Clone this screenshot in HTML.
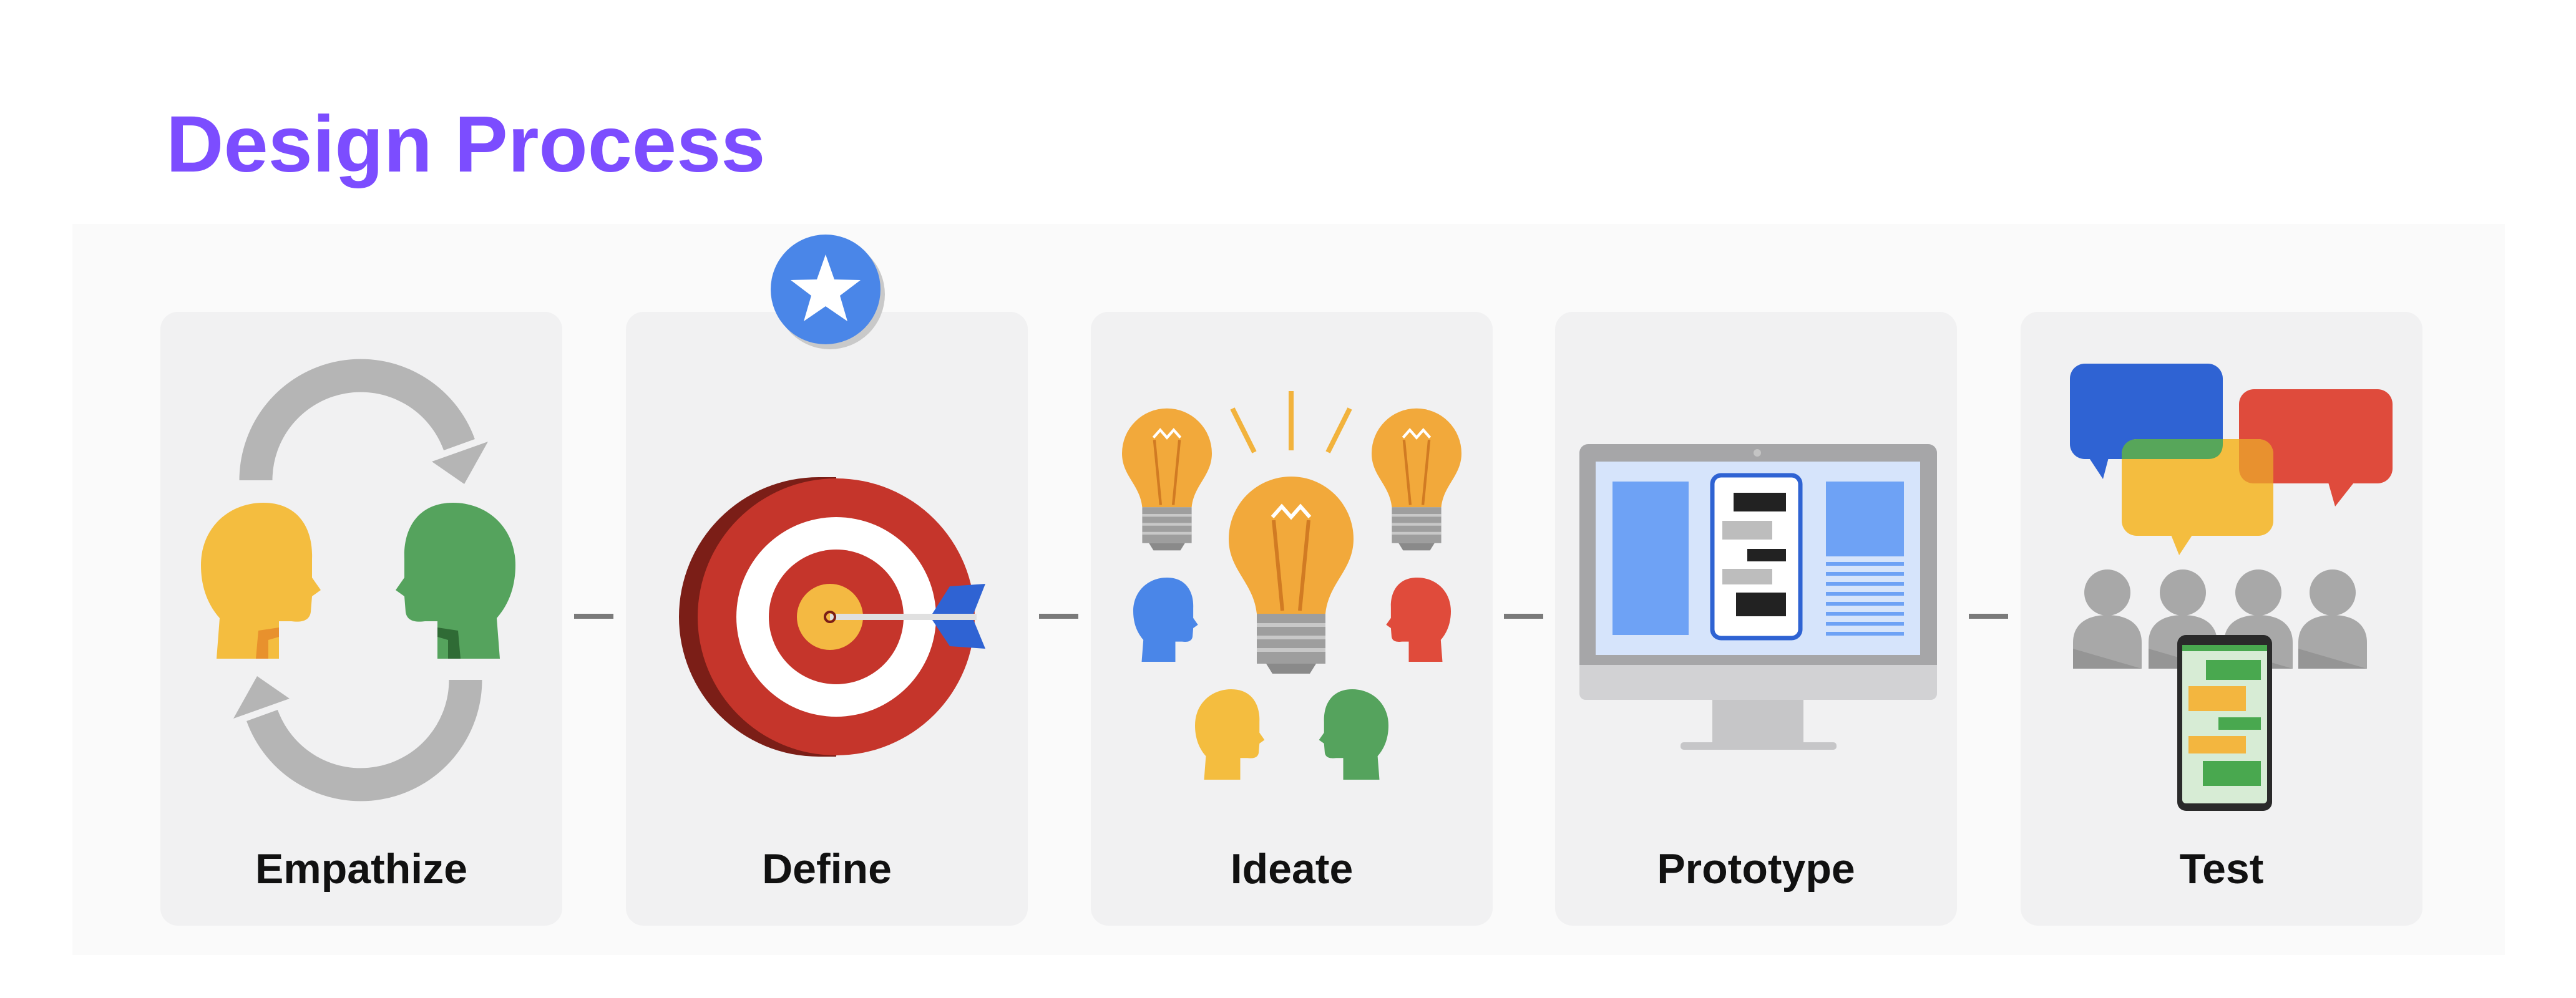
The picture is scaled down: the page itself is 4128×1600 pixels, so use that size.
<!DOCTYPE html>
<html><head><meta charset="utf-8"><style>
html,body{margin:0;padding:0;background:#fff;}
svg{display:block;}
</style></head><body>
<svg width="4128" height="1600" viewBox="0 0 4128 1600" xmlns="http://www.w3.org/2000/svg" font-family="Liberation Sans, sans-serif">
<rect width="4128" height="1600" fill="#fff"/>
<text x="266" y="275" font-size="128" font-weight="bold" fill="#7c4dff">Design Process</text>
<rect x="116" y="359" width="3898" height="1172" fill="#fafafa"/>
<!-- cards -->
<g fill="#f1f1f2">
<rect x="257" y="500" width="644" height="984" rx="28"/>
<rect x="1003" y="500" width="644" height="984" rx="28"/>
<rect x="1748" y="500" width="644" height="984" rx="28"/>
<rect x="2492" y="500" width="644" height="984" rx="28"/>
<rect x="3238" y="500" width="644" height="984" rx="28"/>
</g>
<!-- connectors -->
<g stroke="#7a7a7a" stroke-width="8">
<line x1="920" y1="988" x2="983" y2="988"/>
<line x1="1665" y1="988" x2="1728" y2="988"/>
<line x1="2410" y1="988" x2="2473" y2="988"/>
<line x1="3155" y1="988" x2="3218" y2="988"/>
</g>
<!-- labels -->
<g font-size="68" font-weight="bold" fill="#111" text-anchor="middle">
<text x="579" y="1416">Empathize</text>
<text x="1325" y="1416">Define</text>
<text x="2070" y="1416">Ideate</text>
<text x="2814" y="1416">Prototype</text>
<text x="3560" y="1416">Test</text>
</g>
<!-- star badge -->
<circle cx="1330" cy="472" r="88" fill="#c9c9c9"/>
<circle cx="1323" cy="464" r="88" fill="#4a86e8"/>
<polygon fill="#fff" points="1323,408 1337,448 1379,449 1346,474 1358,515 1323,491 1288,515 1300,474 1267,449 1309,448"/>

<!-- Empathize -->
<g fill="none" stroke="#b5b5b5" stroke-width="53">
<path d="M410 770 A168 168 0 0 1 736 713"/>
<path d="M746 1090 A168 168 0 0 1 420 1147"/>
</g>
<polygon fill="#b5b5b5" points="692,740 782,708 744,776"/>
<polygon fill="#b5b5b5" points="464,1120 374,1152 412,1084"/>
<g transform="translate(322,806)">
<path fill="#f4bd3f" d="M25,250 L30,185 C8,160 0,130 0,100 C0,40 45,0 100,0 C155,0 180,40 178,90 L178,120 L192,140 L178,150 L176,175 C174,190 160,192 145,190 L125,190 L125,250 Z"/>
<path fill="#e8912d" d="M88,250 L92,205 L125,200 L125,215 L108,220 L108,250 Z"/>
</g>
<g transform="translate(826,806) scale(-1,1)">
<path fill="#55a35d" d="M25,250 L30,185 C8,160 0,130 0,100 C0,40 45,0 100,0 C155,0 180,40 178,90 L178,120 L192,140 L178,150 L176,175 C174,190 160,192 145,190 L125,190 L125,250 Z"/>
<path fill="#2f6b35" d="M88,250 L92,205 L125,200 L125,215 L108,220 L108,250 Z"/>
</g>

<!-- Define target -->
<circle cx="1312" cy="989" r="224" fill="#7b1e17"/>
<rect x="1312" y="765" width="28" height="448" fill="#7b1e17"/>
<circle cx="1340" cy="989" r="222" fill="#c5352b"/>
<circle cx="1340" cy="989" r="160" fill="#fff"/>
<circle cx="1340" cy="989" r="108" fill="#c5352b"/>
<circle cx="1330" cy="989" r="53" fill="#f4b942"/>
<line x1="1330" y1="989" x2="1565" y2="989" stroke="#e0e0e0" stroke-width="10"/>
<circle cx="1330" cy="989" r="8" fill="none" stroke="#7b1e17" stroke-width="4"/>
<polygon fill="#2f63d3" points="1494,984 1522,940 1579,936 1560,984"/>
<polygon fill="#2f63d3" points="1494,994 1522,1036 1579,1040 1560,994"/>

<!-- Ideate -->
<g stroke="#f2b33d" stroke-width="8">
<line x1="2069" y1="627" x2="2069" y2="722"/>
<line x1="1975" y1="655" x2="2010" y2="725"/>
<line x1="2163" y1="655" x2="2128" y2="725"/>
</g>
<g id="bulb" transform="translate(2069,774)">
<path fill="#f2a93b" d="M-55,210 C-60,160 -100,140 -100,90 A100 100 0 1 1 100 90 C100 140 60 160 55 210 Z"/>
<g stroke="#d17b23" stroke-width="6" fill="none"><line x1="-28" y1="60" x2="-14" y2="205"/><line x1="28" y1="60" x2="14" y2="205"/></g>
<path d="M-30,55 L-15,38 L0,55 L15,38 L30,55" stroke="#fff" stroke-width="6" fill="none"/>
<rect x="-55" y="210" width="110" height="80" fill="#9e9e9e"/>
<g stroke="#c8c8c8" stroke-width="6"><line x1="-55" y1="228" x2="55" y2="228"/><line x1="-55" y1="248" x2="55" y2="248"/><line x1="-55" y1="268" x2="55" y2="268"/></g>
<path d="M-40,290 L40,290 L30,306 L-30,306 Z" fill="#8a8a8a"/>
</g>
<g transform="translate(1870,662) scale(.72)">
<path fill="#f2a93b" d="M-55,210 C-60,160 -100,140 -100,90 A100 100 0 1 1 100 90 C100 140 60 160 55 210 Z"/>
<g stroke="#d17b23" stroke-width="6" fill="none"><line x1="-28" y1="60" x2="-14" y2="205"/><line x1="28" y1="60" x2="14" y2="205"/></g>
<path d="M-30,55 L-15,38 L0,55 L15,38 L30,55" stroke="#fff" stroke-width="6" fill="none"/>
<rect x="-55" y="210" width="110" height="80" fill="#9e9e9e"/>
<g stroke="#c8c8c8" stroke-width="6"><line x1="-55" y1="228" x2="55" y2="228"/><line x1="-55" y1="248" x2="55" y2="248"/><line x1="-55" y1="268" x2="55" y2="268"/></g>
<path d="M-40,290 L40,290 L30,306 L-30,306 Z" fill="#8a8a8a"/>
</g>
<g transform="translate(2270,662) scale(.72)">
<path fill="#f2a93b" d="M-55,210 C-60,160 -100,140 -100,90 A100 100 0 1 1 100 90 C100 140 60 160 55 210 Z"/>
<g stroke="#d17b23" stroke-width="6" fill="none"><line x1="-28" y1="60" x2="-14" y2="205"/><line x1="28" y1="60" x2="14" y2="205"/></g>
<path d="M-30,55 L-15,38 L0,55 L15,38 L30,55" stroke="#fff" stroke-width="6" fill="none"/>
<rect x="-55" y="210" width="110" height="80" fill="#9e9e9e"/>
<g stroke="#c8c8c8" stroke-width="6"><line x1="-55" y1="228" x2="55" y2="228"/><line x1="-55" y1="248" x2="55" y2="248"/><line x1="-55" y1="268" x2="55" y2="268"/></g>
<path d="M-40,290 L40,290 L30,306 L-30,306 Z" fill="#8a8a8a"/>
</g>
<g transform="translate(1816,926) scale(.54)"><path fill="#4a86e8" d="M25,250 L30,185 C8,160 0,130 0,100 C0,40 45,0 100,0 C155,0 180,40 178,90 L178,120 L192,140 L178,150 L176,175 C174,190 160,192 145,190 L125,190 L125,250 Z"/></g>
<g transform="translate(2325,926) scale(-.54,.54)"><path fill="#e04b3b" d="M25,250 L30,185 C8,160 0,130 0,100 C0,40 45,0 100,0 C155,0 180,40 178,90 L178,120 L192,140 L178,150 L176,175 C174,190 160,192 145,190 L125,190 L125,250 Z"/></g>
<g transform="translate(1915,1105) scale(.58)"><path fill="#f4bd3f" d="M25,250 L30,185 C8,160 0,130 0,100 C0,40 45,0 100,0 C155,0 180,40 178,90 L178,120 L192,140 L178,150 L176,175 C174,190 160,192 145,190 L125,190 L125,250 Z"/></g>
<g transform="translate(2225,1105) scale(-.58,.58)"><path fill="#55a35d" d="M25,250 L30,185 C8,160 0,130 0,100 C0,40 45,0 100,0 C155,0 180,40 178,90 L178,120 L192,140 L178,150 L176,175 C174,190 160,192 145,190 L125,190 L125,250 Z"/></g>

<!-- Prototype -->
<rect x="2531" y="712" width="573" height="410" rx="14" fill="#a6a6a8"/>
<rect x="2531" y="1066" width="573" height="56" rx="10" fill="#d2d2d4"/>
<rect x="2531" y="1066" width="573" height="20" fill="#d2d2d4"/>
<circle cx="2816" cy="726" r="6" fill="#c4c4c4"/>
<rect x="2557" y="740" width="520" height="310" fill="#d6e4fb"/>
<rect x="2584" y="772" width="122" height="246" fill="#6ea2f5"/>
<rect x="2926" y="772" width="125" height="120" fill="#6ea2f5"/>
<g stroke="#6ea2f5" stroke-width="6">
<line x1="2926" y1="904" x2="3051" y2="904"/><line x1="2926" y1="920" x2="3051" y2="920"/><line x1="2926" y1="936" x2="3051" y2="936"/><line x1="2926" y1="952" x2="3051" y2="952"/><line x1="2926" y1="968" x2="3051" y2="968"/><line x1="2926" y1="984" x2="3051" y2="984"/><line x1="2926" y1="1000" x2="3051" y2="1000"/><line x1="2926" y1="1016" x2="3051" y2="1016"/>
</g>
<rect x="2744" y="762" width="141" height="261" rx="14" fill="#fff" stroke="#2f63d3" stroke-width="7"/>
<rect x="2778" y="790" width="84" height="30" fill="#222"/>
<rect x="2760" y="835" width="80" height="30" fill="#bdbdbd"/>
<rect x="2800" y="880" width="62" height="20" fill="#222"/>
<rect x="2760" y="912" width="80" height="25" fill="#bdbdbd"/>
<rect x="2782" y="950" width="80" height="38" fill="#222"/>
<rect x="2744" y="1122" width="146" height="70" fill="#c6c6c8"/>
<rect x="2693" y="1190" width="250" height="12" rx="5" fill="#c6c6c8"/>

<!-- Test -->
<rect x="3317" y="583" width="245" height="153" rx="24" fill="#2f63d3"/>
<polygon points="3345,730 3380,730 3370,768" fill="#2f63d3"/>
<rect x="3588" y="624" width="246" height="151" rx="24" fill="#df4b3c"/>
<polygon points="3730,770 3775,770 3742,812" fill="#df4b3c"/>
<rect x="3400" y="704" width="243" height="155" rx="24" fill="#f4bd3f"/>
<polygon points="3478,855 3515,855 3492,890" fill="#f4bd3f"/>
<path d="M3424,704 L3562,704 L3562,712 C3562,728 3552,736 3538,736 L3400,736 L3400,728 C3400,714 3410,704 3424,704 Z" fill="#57a65a"/>
<path d="M3588,704 L3619,704 C3633,704 3643,714 3643,728 L3643,775 L3612,775 C3598,775 3588,765 3588,751 Z" fill="#e8912f"/>
<g fill="#a8a8a8">
<circle cx="3377" cy="950" r="37"/><circle cx="3498" cy="950" r="37"/><circle cx="3619" cy="950" r="37"/><circle cx="3738" cy="950" r="37"/>
<path d="M3322,1072 L3322,1030 C3322,1000 3345,986 3377,986 C3409,986 3432,1000 3432,1030 L3432,1072 Z"/>
<path d="M3443,1072 L3443,1030 C3443,1000 3466,986 3498,986 C3530,986 3553,1000 3553,1030 L3553,1072 Z"/>
<path d="M3564,1072 L3564,1030 C3564,1000 3587,986 3619,986 C3651,986 3674,1000 3674,1030 L3674,1072 Z"/>
<path d="M3683,1072 L3683,1030 C3683,1000 3706,986 3738,986 C3770,986 3793,1000 3793,1030 L3793,1072 Z"/>
</g>
<g fill="#959595">
<polygon points="3322,1040 3432,1072 3322,1072"/><polygon points="3443,1040 3553,1072 3443,1072"/><polygon points="3564,1040 3674,1072 3564,1072"/><polygon points="3683,1040 3793,1072 3683,1072"/>
</g>
<rect x="3489" y="1018" width="152" height="282" rx="14" fill="#2a2a2a"/>
<rect x="3497" y="1034" width="136" height="254" rx="6" fill="#d7ecd5"/>
<rect x="3497" y="1034" width="136" height="10" fill="#49a84f"/>
<rect x="3535" y="1058" width="88" height="32" fill="#49a84f"/>
<rect x="3507" y="1100" width="92" height="40" fill="#f3b63f"/>
<rect x="3555" y="1150" width="68" height="20" fill="#49a84f"/>
<rect x="3507" y="1180" width="92" height="28" fill="#f3b63f"/>
<rect x="3530" y="1220" width="93" height="40" fill="#49a84f"/>
</svg>
</body></html>
